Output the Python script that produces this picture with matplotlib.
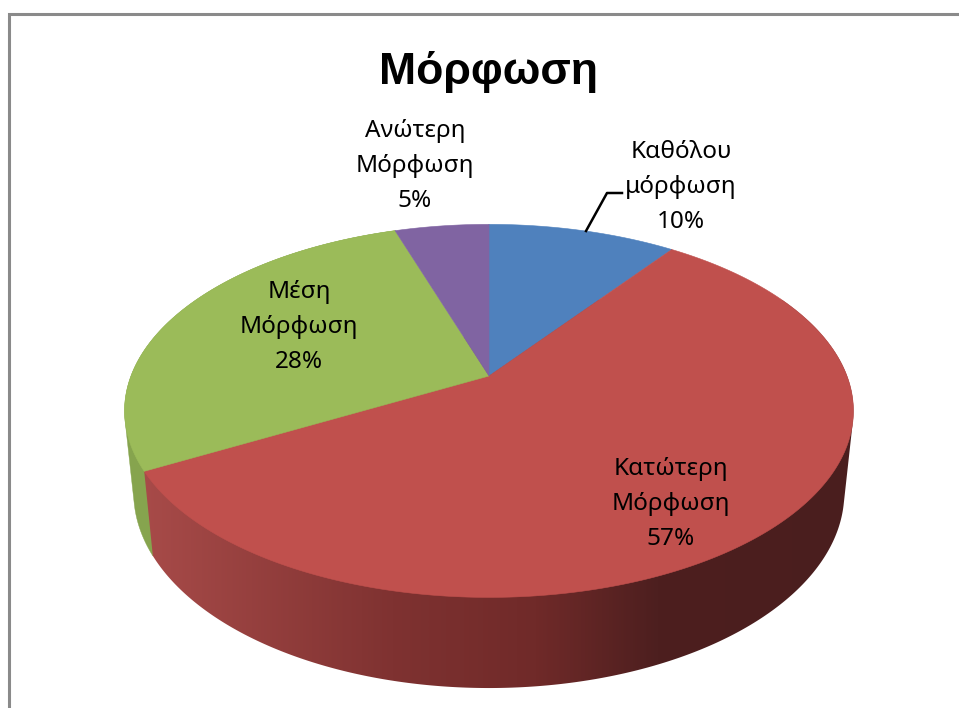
import numpy as np
import matplotlib
matplotlib.use("Agg")
import matplotlib.pyplot as plt
from matplotlib.colors import LinearSegmentedColormap
from matplotlib.patches import Polygon

title = "Μόρφωση"
categories = ["Καθόλου\nμόρφωση", "Κατώτερη\nΜόρφωση", "Μέση\nΜόρφωση", "Ανώτερη\nΜόρφωση"]
values = [10, 57, 28, 5]
colors = ["#4F81BD", "#C0504D", "#9BBB59", "#8064A2"]
label_pos = [(681, 187), (671, 504), (299, 327), (415, 166)]
side_stops = [0.0, 0.35, 0.55, 0.72, 1.0]
side_red = ["#A84B49", "#7F3231", "#702A29", "#4D1F1F", "#4A1E1E"]
side_green = "#86A44E"

W, H = 959, 708
CX, CY, RX, RY, P = 489, 376, 358, 180, 0.187


def project(theta):
    u, v = np.sin(theta), np.cos(theta)
    d = 1 + P * v
    return RX * u / d, RY * v / d


def top(theta):
    x, y = project(theta)
    return CX + x, CY - y


def bottom(theta):
    x, y = project(theta)
    return CX + 0.975 * x, CY - (1.048 * y - 80)


def hull(points):
    pts = sorted(set(map(tuple, points)))

    def half(seq):
        out = []
        for p in seq:
            while len(out) > 1 and ((out[-1][0] - out[-2][0]) * (p[1] - out[-2][1])
                                    - (out[-1][1] - out[-2][1]) * (p[0] - out[-2][0])) <= 0:
                out.pop()
            out.append(p)
        return out[:-1]

    return np.array(half(pts) + half(pts[::-1]))


fig = plt.figure(figsize=(W / 100, H / 100), dpi=100)
ax = fig.add_axes([0, 0, 1, 1])
ax.axis("off")

# frame
ax.plot([8.5, 8.5, W + 5], [H + 5, 13.5, 13.5], color="#8A8A8A", lw=2.2, solid_joinstyle="miter")

fr = np.cumsum([0] + values) / sum(values)
angles = 2 * np.pi * fr

cmap = LinearSegmentedColormap.from_list("side", list(zip(side_stops, side_red)))
grad = np.linspace(0, 1, 512).reshape(1, -1)

# sides: the sweep of each visible slice's arc between the top and bottom rims
for i in [2, 1]:
    t = np.linspace(angles[i], angles[i + 1], 400)
    verts = hull(np.r_[np.c_[top(t)], np.c_[bottom(t)]])
    if i == 2:
        ax.add_patch(Polygon(verts, closed=True, facecolor=side_green, edgecolor=side_green,
                             lw=0.3, zorder=1))
    else:
        im = ax.imshow(grad, cmap=cmap, extent=(140, 860, 700, 300), aspect="auto",
                       interpolation="bilinear", zorder=1.5)
        im.set_clip_path(Polygon(verts, closed=True, transform=ax.transData))

# tops
for i in range(len(values)):
    t = np.linspace(angles[i], angles[i + 1], 300)
    x, y = top(t)
    ax.fill(np.r_[CX, x], np.r_[CY, y], color=colors[i], lw=0.4, zorder=2)

ax.set_xlim(0, W)
ax.set_ylim(H, 0)

# labels
for name, v, (lx, ly) in zip(categories, values, label_pos):
    ax.text(lx, ly, f"{name}\n{v}%", ha="center", va="center", fontsize=17.5,
            family="Noto Sans", color="black", linespacing=1.6, zorder=4)

ax.plot([586, 607, 622], [231, 193, 193], color="black", lw=1.8, zorder=3)
ax.text(488, 72, title, ha="center", va="center", fontsize=32, family="Liberation Sans",
        fontweight="bold", color="black", zorder=4)

fig.savefig("out.png", dpi=100, facecolor="white")
